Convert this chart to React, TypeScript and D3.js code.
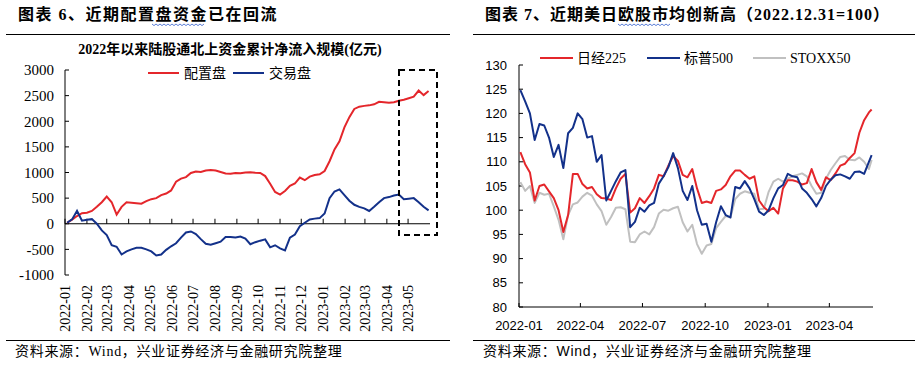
import { useEffect, useRef } from 'react';
import * as d3 from 'd3';

// 图表6：陆股通北上资金累计净流入(亿元)，周度
const flowStart = '2022-01-04';
const allocFlow = [
  20, 80, 150, 205, 215, 250, 330, 420, 530, 420,
  180, 330, 420, 410, 400, 390, 440, 480, 500, 560,
  590, 650, 820, 880, 910, 990, 1020, 1010, 1040, 1050,
  1040, 1010, 980, 975, 990, 985, 1000, 1005, 995, 990,
  930, 780, 620, 570, 640, 740, 785, 900, 850, 920,
  950, 965, 1030, 1220, 1450, 1610, 1880, 2080, 2240, 2285,
  2300, 2310, 2330, 2380, 2370, 2360, 2370, 2400, 2420, 2450,
  2480, 2600, 2510, 2590,
];
const tradeFlow = [
  20, 85, 250, 60, 80, 90, 0, -130, -220, -420,
  -450, -600, -540, -500, -470, -470, -500, -540, -620, -600,
  -510, -440, -380, -270, -170, -150, -200, -300, -390, -410,
  -380, -350, -260, -260, -270, -250, -290, -400, -360, -330,
  -305, -460, -420, -480, -520, -270, -210, -50, 20, 85,
  100, 110, 200, 500, 630, 670, 560, 450, 370, 330,
  300, 250, 330, 420, 500, 520, 550, 570, 480, 490,
  500, 420, 330, 260,
];
const flowMonths = [
  '2022-01', '2022-02', '2022-03', '2022-04', '2022-05', '2022-06', '2022-07', '2022-08', '2022-09',
  '2022-10', '2022-11', '2022-12', '2023-01', '2023-02', '2023-03', '2023-04', '2023-05',
];
const flowYTicks = [-1000, -500, 0, 500, 1000, 1500, 2000, 2500, 3000];

// 图表7：指数，2022.12.31=100，周度
const idxStart = '2022-01-03';
const idxEnd = '2023-06-02';
const nikkei = [
  112, 109.5, 107.8, 102, 105, 105.3, 103.9, 102.5, 100, 95.5,
  99, 107.5, 107.5, 105.4, 104.5, 104.8, 103.3, 102.5, 102.4, 102.1,
  104.5, 106.5, 107.5, 99.5, 100.4, 102.5, 101.5, 102.9, 104.5, 107.3,
  107, 109.2, 111.2, 110.2, 107.3, 106.8, 108.5, 104.5, 101.5, 101.8,
  101.5, 104, 104.3, 105.2, 107, 108.2, 108.2, 107.3, 106.5, 107,
  102, 100.6, 99.8, 100.5, 99.3, 104.5, 106.2, 106.2, 105.9, 105.3,
  105.6, 108.5, 105.8, 104.2, 106.8, 106.2, 107.6, 109.2, 109.6, 110.8,
  111.8, 116, 118.6, 120.2, 120.8,
];
const spx = [
  124.8, 122.5, 120, 114.5, 117.8, 117.5, 115, 111, 113.5, 108.7,
  115.9, 117, 120, 118.8, 115, 115.3, 110, 111.4, 102, 104,
  106, 107.8, 108.3, 96.5, 97.6, 100.5, 99.7, 101, 101.5, 105.5,
  107, 108.9, 111.8, 108.7, 104, 102.1, 105, 100, 97, 97.2,
  93.5, 97.5, 100.8, 99, 98.5, 104.8, 104.5, 106, 104.5, 102.3,
  99.7, 99, 100, 102.5, 104.5, 105.2, 107.5, 107, 106.8, 104.5,
  103.6, 102.3, 100.8, 102.5, 105, 106.3, 107.2, 107.4, 107, 106.5,
  107.9, 108, 107.5, 110, 111.4,
];
const stoxx = [
  105.8, 104, 105, 101.5, 103.6, 103.2, 103.4, 100.8, 98, 94,
  99, 101.2, 101.6, 102.8, 103.6, 103, 101.2, 99.8, 97, 98.6,
  100.5, 100.6, 100.2, 93.5, 93.4, 95, 95.6, 95, 96.5, 99.3,
  100.1, 99.9, 100.4, 100.7, 97.5, 95.6, 97, 93, 91, 92.7,
  93, 96.3, 97.6, 98.8, 98.5, 102.3, 103.4, 103.9, 103.6, 103.4,
  100.2, 100.3, 103.8, 105.9, 106.5, 105.9, 106.5, 107, 107.3, 107.6,
  107, 105, 103.4, 103.6, 106.5, 108.3, 109.7, 111, 111.2, 110.4,
  110.3, 110.9, 110, 108.5, 110.4,
];
const idxMonths = ['2022-01', '2022-04', '2022-07', '2022-10', '2023-01', '2023-04'];
const idxYTicks = [80, 85, 90, 95, 100, 105, 110, 115, 120, 125, 130];

const SERIF = '"Liberation Serif", "Noto Sans CJK SC", serif';
const SANS = '"Liberation Sans", "Noto Sans CJK SC", sans-serif';
const RED = '#E4262B';
const BLUE = '#13318A';
const GRAY = '#C0C0C0';

const parseDay = d3.timeParse('%Y-%m-%d');
const parseMonth = d3.timeParse('%Y-%m');

const squiggle = (svg, x0, x1, y) => {
  let p = `M${x0},${y}`;
  for (let x = x0, k = 0; x < x1; x += 2, k++) p += `L${x + 2},${y + (k % 2 ? 0 : 1.6)}`;
  svg.append('path').attr('d', p).attr('fill', 'none').attr('stroke', '#5C7FD8').attr('stroke-width', 1);
};

const App = () => {
  const svgRef = useRef(null);

  useEffect(() => {
    const svg = d3.select(svgRef.current);
    svg.selectAll('*').remove();

    // ---------- 左图 ----------
    svg.append('text').attr('x', 18).attr('y', 20).attr('font-family', SERIF).attr('font-size', 16)
      .attr('font-weight', 'bold').attr('letter-spacing', 1.5).text('图表 6、近期配置盘资金已在回流');
    squiggle(svg, 152, 203, 24);
    svg.append('line').attr('x1', 6).attr('x2', 450).attr('y1', 34.5).attr('y2', 34.5).attr('stroke', '#000');
    svg.append('text').attr('x', 230).attr('y', 54).attr('text-anchor', 'middle').attr('font-family', SERIF)
      .attr('font-size', 14).attr('font-weight', 'bold').text('2022年以来陆股通北上资金累计净流入规模(亿元)');

    const flowDates = allocFlow.map((_, i) => d3.timeDay.offset(parseDay(flowStart), 7 * i));
    const x = d3.scaleTime().domain([new Date(2022, 0, 1), new Date(2023, 5, 1)]).range([65, 430]);
    const y = d3.scaleLinear().domain([-1000, 3000]).range([275, 70]);

    const gy = svg.append('g');
    gy.append('line').attr('x1', 65).attr('x2', 65).attr('y1', 70).attr('y2', 275).attr('stroke', '#000');
    flowYTicks.forEach((t) => {
      gy.append('line').attr('x1', 65).attr('x2', 69).attr('y1', y(t)).attr('y2', y(t)).attr('stroke', '#000');
      gy.append('text').attr('x', 54).attr('y', y(t)).attr('dy', '0.35em').attr('text-anchor', 'end')
        .attr('font-family', SERIF).attr('font-size', 15).text(t);
    });

    const gx = svg.append('g');
    gx.append('line').attr('x1', 65).attr('x2', 430).attr('y1', y(0)).attr('y2', y(0)).attr('stroke', '#000');
    flowMonths.forEach((m) => {
      const px = x(parseMonth(m));
      gx.append('line').attr('x1', px).attr('x2', px).attr('y1', y(0)).attr('y2', y(0) - 5).attr('stroke', '#000');
      gx.append('text').attr('transform', `translate(${px},285) rotate(-90)`).attr('dy', '0.35em')
        .attr('text-anchor', 'end').attr('font-family', SERIF).attr('font-size', 14).text(m);
    });

    const flowLine = d3.line().x((d, i) => x(flowDates[i])).y((d) => y(d));
    svg.append('path').attr('d', flowLine(allocFlow)).attr('fill', 'none').attr('stroke', RED).attr('stroke-width', 2);
    svg.append('path').attr('d', flowLine(tradeFlow)).attr('fill', 'none').attr('stroke', BLUE).attr('stroke-width', 2);

    [['配置盘', RED, 148], ['交易盘', BLUE, 233]].forEach(([name, c, lx]) => {
      svg.append('line').attr('x1', lx).attr('x2', lx + 31).attr('y1', 73).attr('y2', 73).attr('stroke', c).attr('stroke-width', 2);
      svg.append('text').attr('x', lx + 36).attr('y', 78).attr('font-family', SERIF).attr('font-size', 14).text(name);
    });

    svg.append('rect').attr('x', 399).attr('y', 70).attr('width', 38).attr('height', 165).attr('fill', 'none')
      .attr('stroke', '#000').attr('stroke-width', 2).attr('stroke-dasharray', '6,4');

    svg.append('line').attr('x1', 6).attr('x2', 450).attr('y1', 340.5).attr('y2', 340.5).attr('stroke', '#000');
    svg.append('text').attr('x', 15).attr('y', 356).attr('font-family', SERIF).attr('font-size', 14)
      .attr('letter-spacing', 0.7).text('资料来源：Wind，兴业证券经济与金融研究院整理');

    // ---------- 右图 ----------
    svg.append('text').attr('x', 485).attr('y', 20).attr('font-family', SERIF).attr('font-size', 16)
      .attr('font-weight', 'bold').attr('letter-spacing', 1.0).text('图表 7、近期美日欧股市均创新高（2022.12.31=100）');
    squiggle(svg, 618, 669, 24);
    svg.append('line').attr('x1', 473).attr('x2', 915).attr('y1', 34.5).attr('y2', 34.5).attr('stroke', '#000');

    const idxDates = nikkei.map((_, i) =>
      i < nikkei.length - 1 ? d3.timeDay.offset(parseDay(idxStart), 7 * i) : parseDay(idxEnd));
    const xr = d3.scaleTime().domain([new Date(2022, 0, 1), new Date(2023, 5, 4)]).range([519, 873]);
    const yr = d3.scaleLinear().domain([80, 130]).range([307, 65]);

    const ry = svg.append('g');
    ry.append('line').attr('x1', 519).attr('x2', 519).attr('y1', 65).attr('y2', 307).attr('stroke', '#000');
    idxYTicks.forEach((t) => {
      ry.append('line').attr('x1', 519).attr('x2', 523).attr('y1', yr(t)).attr('y2', yr(t)).attr('stroke', '#000');
      ry.append('text').attr('x', 507).attr('y', yr(t)).attr('dy', '0.35em').attr('text-anchor', 'end')
        .attr('font-family', SANS).attr('font-size', 13).text(t);
    });

    const rx = svg.append('g');
    rx.append('line').attr('x1', 519).attr('x2', 873).attr('y1', 307).attr('y2', 307).attr('stroke', '#000');
    idxMonths.forEach((m) => {
      const px = xr(parseMonth(m));
      rx.append('line').attr('x1', px).attr('x2', px).attr('y1', 307).attr('y2', 303).attr('stroke', '#000');
      rx.append('text').attr('x', px).attr('y', 330).attr('text-anchor', 'middle')
        .attr('font-family', SANS).attr('font-size', 13).text(m);
    });

    const idxLine = d3.line().x((d, i) => xr(idxDates[i])).y((d) => yr(d));
    [[stoxx, GRAY], [nikkei, RED], [spx, BLUE]].forEach(([s, c]) => {
      svg.append('path').attr('d', idxLine(s)).attr('fill', 'none').attr('stroke', c).attr('stroke-width', 2)
        .attr('stroke-linejoin', 'round');
    });

    [['日经225', RED, 540], ['标普500', BLUE, 647], ['STOXX50', GRAY, 753]].forEach(([name, c, lx]) => {
      svg.append('line').attr('x1', lx).attr('x2', lx + 33).attr('y1', 58).attr('y2', 58).attr('stroke', c).attr('stroke-width', 2);
      svg.append('text').attr('x', lx + 37).attr('y', 63).attr('font-family', SERIF).attr('font-size', 14).text(name);
    });

    svg.append('line').attr('x1', 473).attr('x2', 915).attr('y1', 340.5).attr('y2', 340.5).attr('stroke', '#000');
    svg.append('text').attr('x', 483).attr('y', 356).attr('font-family', SANS).attr('font-size', 14)
      .attr('letter-spacing', 0.7).text('资料来源：Wind，兴业证券经济与金融研究院整理');
  }, []);

  return (
    <svg ref={svgRef} width={921} height={368}
      style={{ position: 'absolute', left: 0, top: 0, display: 'block', background: '#fff' }} />
  );
};

export default App;
